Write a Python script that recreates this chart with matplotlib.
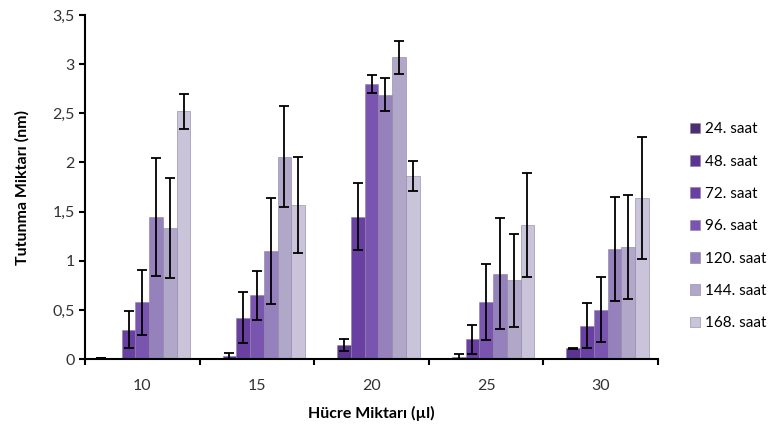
import numpy as np
import matplotlib.pyplot as plt

plt.rcParams['font.family'] = ['Lato', 'DejaVu Sans']

groups = ['10', '15', '20', '25', '30']
series = ['24. saat', '48. saat', '72. saat', '96. saat', '120. saat', '144. saat', '168. saat']

# values per series, across groups 10,15,20,25,30
h24 = [0.015, 0.0, 0.005, 0.005, 0.0]
h48 = [0.005, 0.03, 0.14, 0.02, 0.11]
h72 = [0.30, 0.42, 1.45, 0.20, 0.34]
h96 = [0.58, 0.65, 2.80, 0.58, 0.50]
h120 = [1.45, 1.10, 2.69, 0.87, 1.12]
h144 = [1.33, 2.06, 3.07, 0.80, 1.14]
h168 = [2.52, 1.57, 1.86, 1.36, 1.64]

e24 = [0.0, 0.0, 0.0, 0.0, 0.0]
e48 = [0.0, 0.03, 0.06, 0.03, 0.005]
e72 = [0.19, 0.26, 0.34, 0.15, 0.23]
e96 = [0.33, 0.25, 0.09, 0.39, 0.33]
e120 = [0.60, 0.54, 0.17, 0.56, 0.53]
e144 = [0.51, 0.51, 0.17, 0.47, 0.53]
e168 = [0.18, 0.49, 0.15, 0.53, 0.62]

vals = [h24, h48, h72, h96, h120, h144, h168]
errs = [e24, e48, e72, e96, e120, e144, e168]
colors = ['#4a2f73', '#5a3490', '#6a3fa2', '#7a55b0', '#9581bb', '#b0a7c9', '#c9c4d9']

fig = plt.figure(figsize=(7.77, 4.28), dpi=100)
ax = fig.add_axes([0.1094, 0.161, 0.7376, 0.804])

x = np.arange(len(groups))
w = 0.12
for i in range(len(series)):
    ax.bar(x + (i - 3) * w, vals[i], w, yerr=errs[i], color=colors[i],
           edgecolor='#8a80a0', linewidth=0.4, label=series[i],
           error_kw=dict(ecolor='black', elinewidth=1.3, capsize=3.5, capthick=1.3))

ax.set_xlim(-0.5, 4.5)
ax.set_ylim(0, 3.5)
ax.set_yticks(np.arange(0, 3.51, 0.5))
ax.set_yticklabels(['0', '0,5', '1', '1,5', '2', '2,5', '3', '3,5'])
ax.set_xticks(np.arange(-0.5, 4.6, 1))
ax.set_xticklabels([])
ax.set_xticks(x, minor=True)
ax.set_xticklabels(groups, minor=True)
ax.tick_params(axis='x', which='minor', length=0, pad=14)
ax.tick_params(axis='both', which='major', direction='out', length=4, width=1.5)
ax.tick_params(labelsize=11.5, labelcolor='#333333')
ax.tick_params(axis='x', which='minor', labelsize=11.5, labelcolor='#333333')
for s in ['top', 'right']:
    ax.spines[s].set_visible(False)
for s in ['left', 'bottom']:
    ax.spines[s].set_linewidth(1.5)

ax.set_xlabel('Hücre Miktarı (µl)', fontsize=11.5, fontweight='bold', labelpad=10)
ax.set_ylabel('Tutunma Miktarı (nm)', fontsize=11.5, fontweight='bold', labelpad=16)

fig.legend(loc='center left', bbox_to_anchor=(0.87, 0.471), frameon=False,
           fontsize=11, handlelength=0.7, handleheight=0.7, handletextpad=0.3,
           labelspacing=1.2)

fig.savefig('out.png', dpi=100)
